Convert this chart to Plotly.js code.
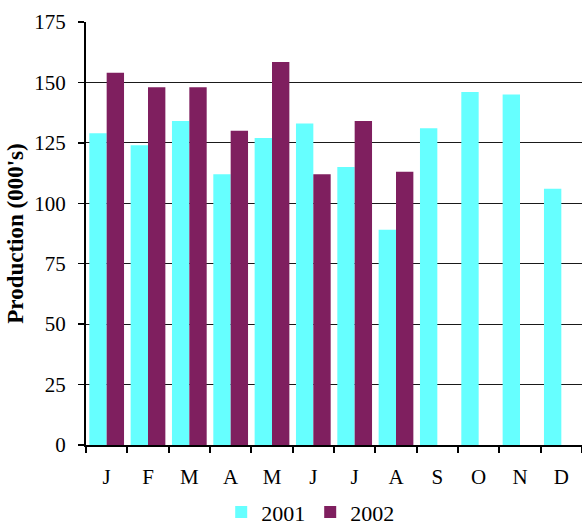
<!DOCTYPE html>
<html>
<head>
<meta charset="utf-8">
<script src="https://cdn.plot.ly/plotly-3.0.1.min.js"></script>
<style>html,body{margin:0;padding:0;background:#fff;}#chart{width:582px;height:526px;}</style>
</head>
<body>
<div id="chart"></div>
<script>
const months = ["J","F","M","A","M ","J ","J  ","A ","S","O","N","D"];
const monthLabels = ["J","F","M","A","M","J","J","A","S","O","N","D"];
const series2001 = [129, 124, 134, 112, 127, 133, 115, 89, 131, 146, 145, 106];
const series2002 = [154, 148, 148, 130, 158.5, 112, 134, 113, null, null, null, null];
const yTicks = [0, 25, 50, 75, 100, 125, 150, 175];

const fontFam = '"Liberation Serif", "Times New Roman", serif';

const traces = [
  {type: 'bar', name: '2001', x: months, y: series2001, marker: {color: '#66ffff'}},
  {type: 'bar', name: '2002', x: months, y: series2002, marker: {color: '#7f1f5f'}}
];

const layout = {
  width: 582, height: 526,
  margin: {l: 86, r: 0, t: 22, b: 81, autoexpand: false},
  paper_bgcolor: '#fff', plot_bgcolor: '#fff',
  font: {family: fontFam, color: '#000', size: 21},
  barmode: 'group', bargap: 0.16, bargroupgap: 0,
  showlegend: true,
  legend: {orientation: 'h', xref: 'container', yref: 'container',
           x: 0.533, xanchor: 'center', y: 0.026, yanchor: 'middle',
           font: {family: fontFam, size: 22, color: '#000'}, itemwidth: 30, tracegroupgap: 0},
  xaxis: {
    type: 'category', categoryorder: 'array', categoryarray: months,
    tickvals: months, ticktext: monthLabels,
    showline: true, linecolor: '#000', linewidth: 2,
    ticks: 'outside', tickson: 'boundaries', ticklen: 6, tickwidth: 2, tickcolor: '#000',
    showgrid: false, zeroline: false, automargin: false,
    tickfont: {family: fontFam, size: 21, color: '#000'}, ticklabelstandoff: 12
  },
  yaxis: {
    range: [0, 175], tickvals: yTicks, ticktext: yTicks.map(String),
    showline: true, linecolor: '#000', linewidth: 2,
    ticks: 'outside', ticklen: 6, tickwidth: 1.5, tickcolor: '#000',
    showgrid: true, gridcolor: '#1a1a1a', gridwidth: 1, zeroline: false, automargin: false,
    tickfont: {family: fontFam, size: 21, color: '#000'}, ticklabelstandoff: 8,
    title: {text: "Production (000's)", font: {family: fontFam, size: 23, color: '#000', weight: 'bold'}, standoff: 4}
  }
};

Plotly.newPlot('chart', traces, layout, {displayModeBar: false, staticPlot: true});
</script>
</body>
</html>
